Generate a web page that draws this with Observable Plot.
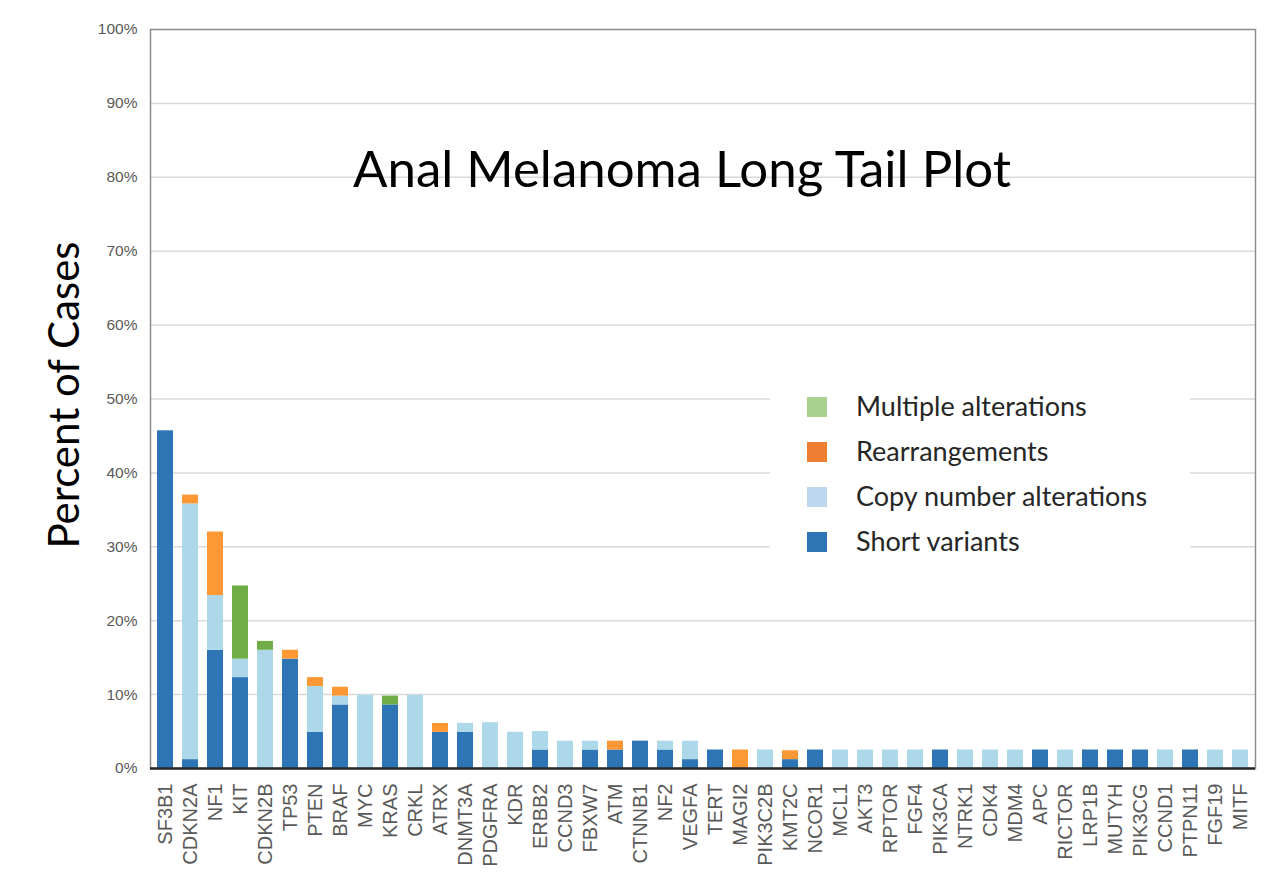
<!DOCTYPE html>
<html><head><meta charset="utf-8">
<script src="https://cdn.jsdelivr.net/npm/d3@7"></script>
<script src="https://cdn.jsdelivr.net/npm/@observablehq/plot@0.6"></script>
<style>
body{margin:0;background:#fff;}
#wrap{position:relative;width:1280px;height:888px;overflow:hidden;}
#wrap svg{position:absolute;left:0;top:0;}
#legend{position:absolute;left:770px;top:385px;width:420px;height:180px;background:#fff;font-family:Lato,"Open Sans",sans-serif;font-size:27px;color:#262626;}
.row{position:absolute;left:0;height:24px;}
.sw{position:absolute;left:37px;top:2px;width:20px;height:20px;}
.lb{position:absolute;left:86px;top:-6px;white-space:nowrap;}
</style></head>
<body><div id="wrap"></div>
<script>
const title = "Anal Melanoma Long Tail Plot";
const yLabel = "Percent of Cases";
const genes = ["SF3B1","CDKN2A","NF1","KIT","CDKN2B","TP53","PTEN","BRAF","MYC","KRAS","CRKL","ATRX","DNMT3A","PDGFRA","KDR","ERBB2","CCND3","FBXW7","ATM","CTNNB1","NF2","VEGFA","TERT","MAGI2","PIK3C2B","KMT2C","NCOR1","MCL1","AKT3","RPTOR","FGF4","PIK3CA","NTRK1","CDK4","MDM4","APC","RICTOR","LRP1B","MUTYH","PIK3CG","CCND1","PTPN11","FGF19","MITF"];
const shortVariants = [45.7,1.2,16.0,12.3,0,14.8,4.9,8.6,0,8.6,0,4.9,4.9,0,0,2.5,0,2.5,2.5,3.7,2.5,1.2,2.5,0,0,1.2,2.5,0,0,0,0,2.5,0,0,0,2.5,0,2.5,2.5,2.5,0,2.5,0,0];
const copyNumber = [0,34.6,7.4,2.5,16.0,0,6.2,1.2,9.9,0,9.9,0,1.2,6.2,4.9,2.5,3.7,1.2,0,0,1.2,2.5,0,0,2.5,0,0,2.5,2.5,2.5,2.5,0,2.5,2.5,2.5,0,2.5,0,0,0,2.5,0,2.5,2.5];
const rearrangements = [0,1.2,8.6,0,0,1.2,1.2,1.2,0,0,0,1.2,0,0,0,0,0,0,1.2,0,0,0,0,2.5,0,1.2,0,0,0,0,0,0,0,0,0,0,0,0,0,0,0,0,0,0];
const multiple = [0,0,0,9.9,1.2,0,0,0,0,1.2,0,0,0,0,0,0,0,0,0,0,0,0,0,0,0,0,0,0,0,0,0,0,0,0,0,0,0,0,0,0,0,0,0,0];
const types = ["Short variants","Copy number alterations","Rearrangements","Multiple alterations"];
const barColors = ["#2e75b6","#add8e9","#fd9834","#70ad47"];
const legendOrder = ["Multiple alterations","Rearrangements","Copy number alterations","Short variants"];
const legendColors = ["#a9d18e","#ed7d31","#bdd7ee","#2e75b6"];
const yTicks = [0,10,20,30,40,50,60,70,80,90,100];

const series = [shortVariants, copyNumber, rearrangements, multiple];
const rows = [];
genes.forEach((g, i) => {
  types.forEach((t, k) => rows.push({gene: g, type: t, value: series[k][i]}));
});

const chart = Plot.plot({
  width: 1280, height: 888,
  marginLeft: 150, marginRight: 25, marginTop: 29, marginBottom: 120,
  style: {background: "#fff", overflow: "visible"},
  x: {domain: genes, paddingInner: 0.34, paddingOuter: 0.17, axis: null},
  y: {domain: [0, 100], axis: null},
  color: {domain: types, range: barColors},
  marks: [
    Plot.gridY(yTicks.filter(d => d > 0 && d < 100), {stroke: "#d9d9d9", strokeOpacity: 1, strokeWidth: 1.5}),
    Plot.barY(rows, {x: "gene", y: "value", fill: "type"}),
    Plot.axisY(yTicks, {tickSize: 0, tickPadding: 13, tickFormat: d => d + "%", fontSize: 15.5, fill: "#595959", fontFamily: "Liberation Sans, Arial, sans-serif", label: null}),
    Plot.axisX({tickSize: 0, tickRotate: -90, tickPadding: 15, fontSize: 20, fill: "#595959", fontFamily: "Liberation Sans, Arial, sans-serif", label: null}),
    Plot.frame({stroke: "#8c8c8c", strokeWidth: 1.5}),
    Plot.ruleY([0], {stroke: "#262626", strokeWidth: 2.5}),
    Plot.text([yLabel], {frameAnchor: "left", textAnchor: "middle", dx: -85, dy: -4, rotate: -90, fontSize: 42, fontFamily: "Lato, sans-serif", fill: "#000"}),
    Plot.text([title], {frameAnchor: "top", lineAnchor: "bottom", dx: -21, dy: 157, fontSize: 51, fontFamily: "Lato, sans-serif", fill: "#000"})
  ]
});
const wrap = document.getElementById("wrap");
wrap.appendChild(chart);

const legend = document.createElement("div");
legend.id = "legend";
legendOrder.forEach((t, i) => {
  const r = document.createElement("div");
  r.className = "row";
  r.style.top = (10 + i * 45) + "px";
  r.innerHTML = `<div class="sw" style="background:${legendColors[i]}"></div><div class="lb">${t}</div>`;
  legend.appendChild(r);
});
wrap.appendChild(legend);
</script>
</body></html>
